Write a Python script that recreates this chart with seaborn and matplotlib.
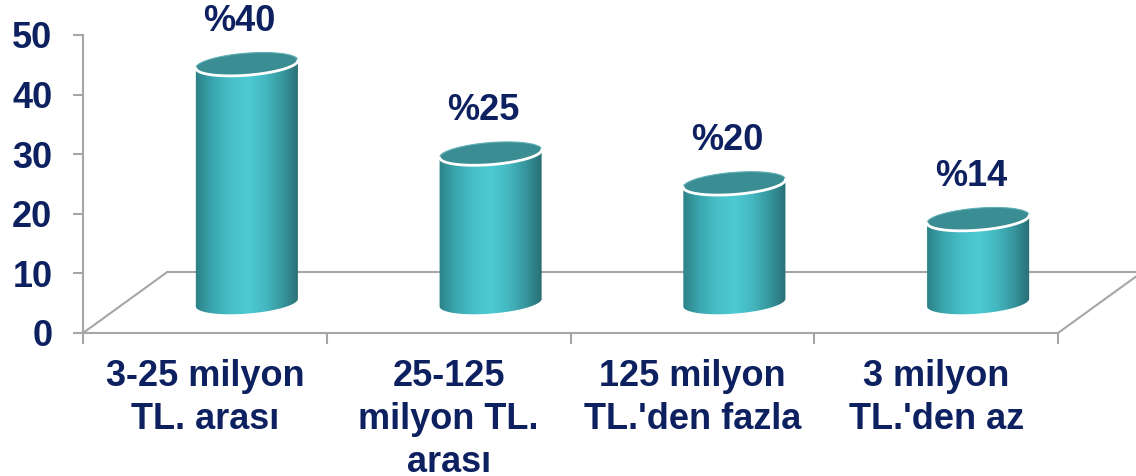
import numpy as np
import matplotlib
matplotlib.use("Agg")
import matplotlib.pyplot as plt
import seaborn as sns
from matplotlib.patches import Polygon
from matplotlib.colors import LinearSegmentedColormap

# data
categories = ["3-25 milyon\nTL. arası", "25-125\nmilyon TL.\narası",
              "125 milyon\nTL.'den fazla", "3 milyon\nTL.'den az"]
values = [40, 25, 20, 14]
value_labels = ["%40", "%25", "%20", "%14"]
y_ticks = [0, 10, 20, 30, 40, 50]

sns.set_style("white")
plt.rcParams["font.family"] = ["Liberation Sans", "DejaVu Sans"]

NAVY = "#0d2060"
GREY = "#a6a6a6"
FS = 26
cyl_cmap = LinearSegmentedColormap.from_list(
    "cyl", ["#2c7f86", "#3ba6ae", "#47bfc7", "#4dcbd3", "#44b8c0", "#37979f", "#286c72"])

fig = plt.figure(figsize=(11.36, 4.76), dpi=100)
ax = fig.add_axes([83 / 1136, 143 / 476, 1053 / 1136, 298 / 476])

sns.barplot(x=categories, y=values, width=0.42, ax=ax)
ax.set_xlim(-0.5, 3.82)
ax.set_ylim(0, 50)

# pixel scale of the axes, used for the pseudo-3D depth
px_x = 1053 / 4.32
px_y = 298 / 50
back_dx, back_dy = 84 / px_x, 10.2
mid_dx, mid_dy = back_dx / 2, back_dy / 2

# floor of the 3D box
ax.plot([-0.5, -0.5 + back_dx], [0, back_dy], color=GREY, lw=1.5, clip_on=False, zorder=1)
ax.plot([-0.5 + back_dx, 3.9], [back_dy, back_dy], color=GREY, lw=1.5, clip_on=False, zorder=1)
ax.plot([3.5, 3.5 + back_dx], [0, back_dy], color=GREY, lw=1.5, clip_on=False, zorder=1)

theta = np.deg2rad(4.5)


def ellipse_pts(cx, cy, a, b, t):
    ex, ey = a * np.cos(t), b * np.sin(t)
    rx = ex * np.cos(theta) - ey * np.sin(theta)
    ry = ex * np.sin(theta) + ey * np.cos(theta)
    return np.column_stack([cx + rx / px_x, cy + ry / px_y])


# turn seaborn's flat bars into cylinders
for p, lab in zip(list(ax.patches), value_labels):
    xc = p.get_x() + p.get_width() / 2
    h = p.get_height()
    a = p.get_width() * px_x / 2
    b = 11
    p.set_visible(False)

    cx = xc + mid_dx
    base = mid_dy
    top = base + h

    upper = ellipse_pts(cx, top, a, b, np.linspace(0, np.pi, 60))
    lower = ellipse_pts(cx, base, a, b, np.linspace(np.pi, 2 * np.pi, 60))
    body = Polygon(np.vstack([upper, lower]), closed=True, facecolor="none",
                   edgecolor="none", transform=ax.transData)
    ax.add_patch(body)

    hw = a / px_x * 1.02
    img = ax.imshow(np.linspace(0, 1, 256)[None, :], cmap=cyl_cmap, aspect="auto",
                    extent=[cx - hw, cx + hw, base - 4, top + 4], zorder=2)
    img.set_clip_path(body)

    cap = ellipse_pts(cx, top, a, b, np.linspace(0, 2 * np.pi, 120))
    ax.add_patch(Polygon(cap, closed=True, facecolor="#3a8d93",
                         edgecolor="#5fb0b5", lw=0.8, zorder=3))
    rim = ellipse_pts(cx, top, a, b, np.linspace(np.pi, 2 * np.pi, 60))
    ax.plot(rim[:, 0], rim[:, 1], color="white", lw=2, zorder=4, solid_capstyle="round")

    ax.text(cx - 0.03, top + 43 / px_y, lab, ha="center", va="center",
            fontsize=FS, fontweight="bold", color=NAVY, clip_on=False)

ax.set_xlim(-0.5, 3.82)
ax.set_ylim(0, 50)

# axes styling
for side in ["top", "right"]:
    ax.spines[side].set_visible(False)
ax.spines["left"].set_bounds(0, 50)
ax.spines["bottom"].set_bounds(-0.5, 3.5)
for side in ["left", "bottom"]:
    ax.spines[side].set_color(GREY)
    ax.spines[side].set_linewidth(1.5)

ax.set_yticks(y_ticks)
ax.set_yticklabels([str(t) for t in y_ticks])
ax.tick_params(axis="y", direction="out", length=7, width=1.5, color=GREY,
               pad=15, labelsize=FS, labelcolor=NAVY, left=True)
ax.set_xticks([0, 1, 2, 3])
ax.set_xticks([-0.5, 0.5, 1.5, 2.5, 3.5], minor=True)
ax.tick_params(axis="x", which="major", length=0, pad=19, labelsize=FS, labelcolor=NAVY)
ax.tick_params(axis="x", which="minor", direction="out", length=8, width=1.5,
               color=GREY, bottom=True)
for t in ax.get_xticklabels():
    t.set_fontweight("bold")
    t.set_linespacing(1.28)
for t in ax.get_yticklabels():
    t.set_fontweight("bold")
ax.set_xlabel("")
ax.set_ylabel("")

fig.savefig("out.png", dpi=100)
